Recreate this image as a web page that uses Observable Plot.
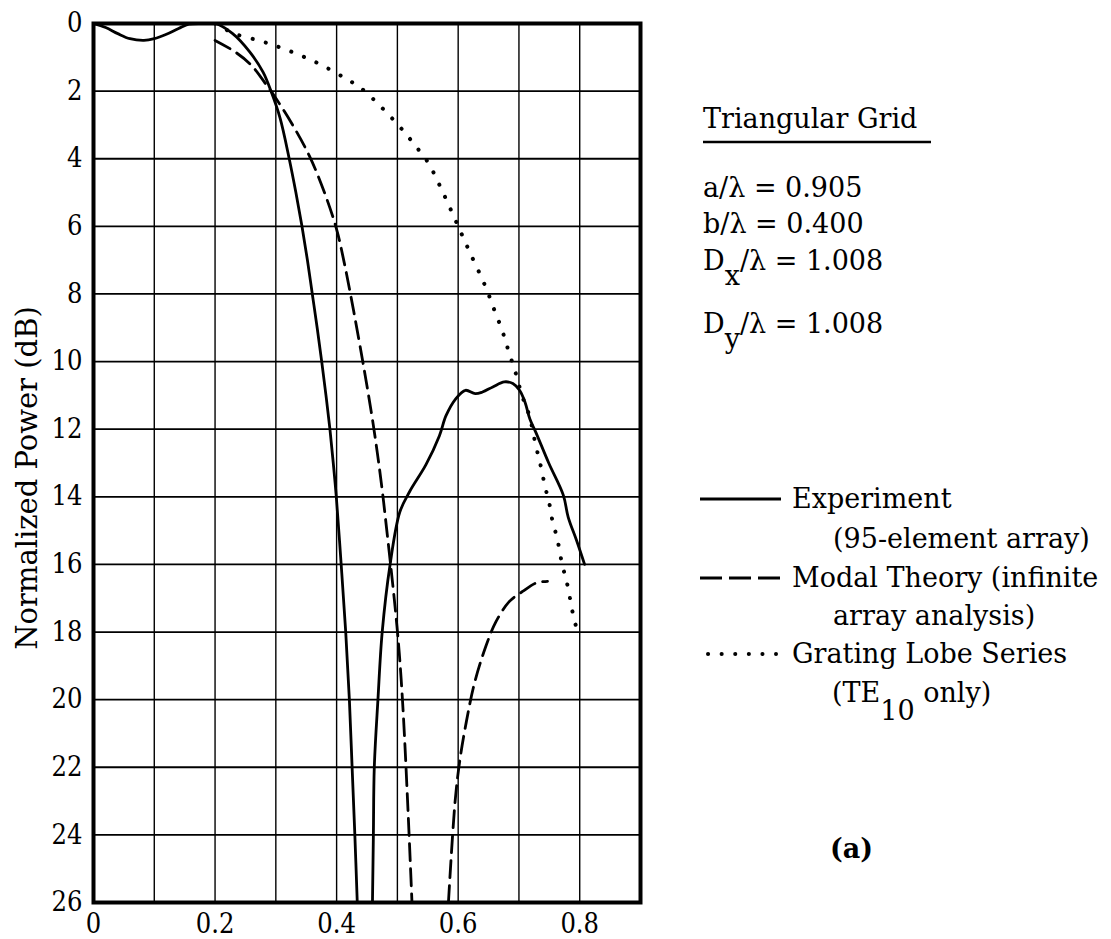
<!DOCTYPE html>
<html>
<head>
<meta charset="utf-8">
<script src="https://cdn.jsdelivr.net/npm/d3@7"></script>
<script src="https://cdn.jsdelivr.net/npm/@observablehq/plot@0.6"></script>
<style>
html, body { margin: 0; padding: 0; background: #fff; }
#chart { width: 1111px; height: 939px; }
</style>
</head>
<body>
<div id="chart"></div>
<script>
// ---- Data (x = scan coordinate, y = normalized power in dB below peak) ----
const xTicks = [0, 0.2, 0.4, 0.6, 0.8];
const xGrid = [0, 0.1, 0.2, 0.3, 0.4, 0.5, 0.6, 0.7, 0.8, 0.9];
const yTicks = [0, 2, 4, 6, 8, 10, 12, 14, 16, 18, 20, 22, 24, 26];

// Experiment (95-element array), two branches
const expX1 = [0, 0.02, 0.04, 0.06, 0.083, 0.10, 0.12, 0.14, 0.157, 0.18, 0.2, 0.229, 0.257, 0.279, 0.292, 0.307, 0.322, 0.333, 0.343, 0.352, 0.360, 0.368, 0.3755, 0.3825, 0.389, 0.3945, 0.3995, 0.4075, 0.415, 0.421, 0.4255, 0.430, 0.434];
const expY1 = [0, 0.12, 0.3, 0.45, 0.5, 0.45, 0.32, 0.15, 0.02, 0, 0, 0.3, 0.84, 1.44, 2.0, 2.8, 4.0, 5.0, 6.0, 7.0, 8.0, 9.0, 10.0, 11.0, 12.0, 13.0, 14.0, 16.0, 18.0, 20.0, 22.0, 24.0, 26];
const expX2 = [0.459, 0.4605, 0.462, 0.468, 0.475, 0.488, 0.504, 0.520, 0.547, 0.569, 0.580, 0.596, 0.612, 0.628, 0.640, 0.657, 0.676, 0.690, 0.701, 0.710, 0.718, 0.728, 0.749, 0.773, 0.781, 0.795, 0.808];
const expY2 = [26, 24, 22, 20, 18, 16, 14.45, 13.85, 13.05, 12.2, 11.6, 11.1, 10.85, 10.95, 10.9, 10.75, 10.6, 10.65, 10.85, 11.2, 11.7, 12.1, 13.0, 13.95, 14.6, 15.3, 16.0];

// Modal Theory (infinite array analysis), two branches
const modX1 = [0.2, 0.233, 0.260, 0.287, 0.297, 0.325, 0.355, 0.380, 0.4, 0.4126, 0.428, 0.445, 0.458, 0.467, 0.475, 0.482, 0.490, 0.497, 0.503, 0.508, 0.512, 0.516, 0.520, 0.524];
const modY1 = [0.5, 0.84, 1.24, 1.88, 2.13, 2.92, 3.91, 5.0, 6.09, 7.08, 8.5, 10.2, 11.6, 12.7, 13.8, 14.9, 16.2, 17.4, 18.6, 19.9, 21.2, 22.7, 24.3, 26];
const modX2 = [0.584, 0.595, 0.6027, 0.6135, 0.627, 0.646, 0.662, 0.684, 0.706, 0.728, 0.747];
const modY2 = [26, 23.0, 21.8, 20.65, 19.5, 18.4, 17.7, 17.1, 16.8, 16.55, 16.5];

// Grating Lobe Series (TE10 only)
const grtX = [0.2, 0.232, 0.279, 0.322, 0.371, 0.415, 0.440, 0.475, 0.511, 0.527, 0.55, 0.575, 0.6, 0.62, 0.643, 0.654, 0.662, 0.671, 0.678, 0.684, 0.694, 0.705, 0.717, 0.728, 0.736, 0.743, 0.750, 0.755, 0.761, 0.766, 0.771, 0.777, 0.782, 0.787, 0.792, 0.795];
const grtY = [0, 0.3, 0.54, 0.81, 1.19, 1.63, 1.91, 2.5, 3.2, 3.56, 4.1, 5.0, 6.0, 6.8, 7.7, 8.2, 8.6, 9.0, 9.4, 9.75, 10.3, 11.0, 11.6, 12.5, 13.1, 13.7, 14.2, 14.7, 15.1, 15.5, 16.0, 16.4, 16.8, 17.3, 17.7, 17.9];

const rows = (xs, ys, branch) => xs.map((x, i) => ({x, y: ys[i], branch}));
const expRows = rows(expX1, expY1, 1).concat(rows(expX2, expY2, 2));
const modRows = rows(modX1, modY1, 1).concat(rows(modX2, modY2, 2));
const grtRows = rows(grtX, grtY, 1);

const serif = "'DejaVu Serif', serif";
const serifCond = "'DejaVu Serif Condensed', 'DejaVu Serif', serif";

const plot = Plot.plot({
  width: 1111,
  height: 939,
  marginLeft: 93,
  marginRight: 471,
  marginTop: 23,
  marginBottom: 37,
  style: {background: "white", color: "black", fontFamily: serifCond, fontSize: "26px", overflow: "visible"},
  x: {domain: [0, 0.9]},
  y: {domain: [0, 26], reverse: true},
  marks: [
    Plot.gridX(xGrid, {stroke: "black", strokeOpacity: 1, strokeWidth: 1.4}),
    Plot.gridY(yTicks, {stroke: "black", strokeOpacity: 1, strokeWidth: 1.8}),
    Plot.line(grtRows, {x: "x", y: "y", z: "branch", curve: "catmull-rom", stroke: "black", strokeWidth: 4, strokeDasharray: "0.1 13.5", strokeLinecap: "round", clip: true}),
    Plot.line(modRows, {x: "x", y: "y", z: "branch", curve: "catmull-rom", stroke: "black", strokeWidth: 2.8, strokeDasharray: "17 8", clip: true}),
    Plot.line(expRows, {x: "x", y: "y", z: "branch", curve: "catmull-rom", stroke: "black", strokeWidth: 2.8, clip: true}),
    Plot.frame({stroke: "black", strokeWidth: 4}),
    Plot.axisX(xTicks, {tickSize: 0, tickPadding: 11, label: null, fontSize: 27, fontFamily: serifCond,
      tickFormat: d => d === 0 ? "0" : d.toFixed(1)}),
    Plot.axisY(yTicks, {tickSize: 0, tickPadding: 11, label: null, fontSize: 27, fontFamily: serifCond})
  ]
});

document.getElementById("chart").appendChild(plot);

// ---- Annotations: axis title, parameter block, legend ----
const svg = d3.select(plot);
const g = svg.append("g")
  .attr("fill", "black")
  .attr("text-anchor", "start")
  .style("font-family", serif)
  .style("font-size", "27px");

g.append("text")
  .attr("transform", "translate(37,478) rotate(-90)")
  .attr("text-anchor", "middle")
  .style("font-size", "29px")
  .text("Normalized Power (dB)");

// Parameter block
g.append("text").attr("x", 703).attr("y", 128).text("Triangular Grid");
g.append("line").attr("x1", 703).attr("x2", 931).attr("y1", 142).attr("y2", 142)
  .attr("stroke", "black").attr("stroke-width", 2.5);

const params = [
  {main: "a/λ = 0.905", sub: null, y: 197},
  {main: "b/λ = 0.400", sub: null, y: 233},
  {main: "D", sub: "x", rest: "/λ = 1.008", y: 270},
  {main: "D", sub: "y", rest: "/λ = 1.008", y: 333}
];
params.forEach(p => {
  const t = g.append("text").attr("x", 703).attr("y", p.y);
  t.append("tspan").text(p.main);
  if (p.sub) {
    t.append("tspan").attr("dy", 15).text(p.sub);
    t.append("tspan").attr("dy", -15).text(p.rest);
  }
});

// Legend
g.append("line").attr("x1", 700).attr("x2", 781).attr("y1", 499).attr("y2", 499)
  .attr("stroke", "black").attr("stroke-width", 3);
g.append("text").attr("x", 792).attr("y", 508).text("Experiment");
g.append("text").attr("x", 833).attr("y", 548).text("(95-element array)");

g.append("line").attr("x1", 700).attr("x2", 781).attr("y1", 578).attr("y2", 578)
  .attr("stroke", "black").attr("stroke-width", 3).attr("stroke-dasharray", "22 7");
g.append("text").attr("x", 792).attr("y", 587).text("Modal Theory (infinite");
g.append("text").attr("x", 833).attr("y", 625).text("array analysis)");

g.append("line").attr("x1", 708).attr("x2", 776).attr("y1", 654).attr("y2", 654)
  .attr("stroke", "black").attr("stroke-width", 4).attr("stroke-linecap", "round").attr("stroke-dasharray", "0.1 13.5");
g.append("text").attr("x", 792).attr("y", 663).text("Grating Lobe Series");
const te = g.append("text").attr("x", 832).attr("y", 702);
te.append("tspan").text("(TE");
te.append("tspan").attr("dy", 18).text("10");
te.append("tspan").attr("dy", -18).text(" only)");

g.append("text").attr("x", 830).attr("y", 858).style("font-weight", "bold").text("(a)");
</script>
</body>
</html>
